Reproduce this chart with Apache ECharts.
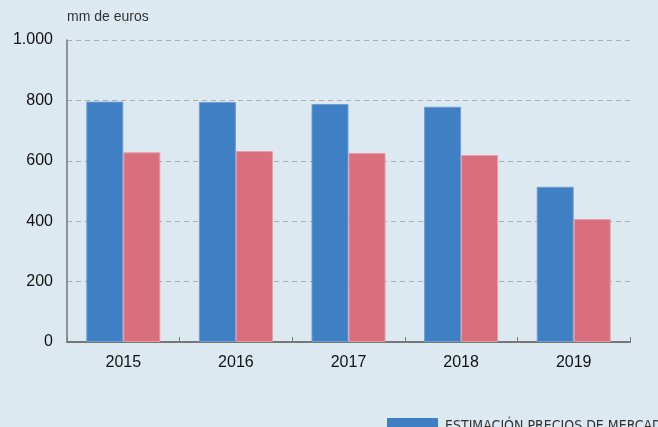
<!DOCTYPE html>
<html>
<head>
<meta charset="utf-8">
<script src="https://cdn.jsdelivr.net/npm/echarts@6/dist/echarts.min.js"></script>
<style>
html,body{margin:0;padding:0;background:#dde9f0;}
#c{width:658px;height:427px;}
</style>
</head>
<body>
<div id="c"></div>
<script>
const categories = ['2015', '2016', '2017', '2018', '2019'];
const marketPrices = [796, 795, 788, 779, 514];
const secondSeries = [628, 632, 626, 619, 407];
const yTicks = [0, 200, 400, 600, 800, 1000];
const unitLabel = 'mm de euros';
const legendLabel = 'ESTIMACIÓN PRECIOS DE MERCADO';

const chart = echarts.init(document.getElementById('c'));
chart.setOption({
  backgroundColor: '#dde9f0',
  animation: false,
  grid: { left: 67, right: 28, top: 40, bottom: 85, containLabel: false },
  legend: {
    data: [legendLabel],
    left: 387, top: 418, padding: 0,
    itemWidth: 51, itemHeight: 16, itemGap: 8,
    icon: 'rect',
    itemStyle: { borderWidth: 0 },
    textStyle: { fontFamily: 'DejaVu Sans Condensed, Liberation Sans', fontSize: 14, color: '#333', padding: [0, 0, 16, 2] }
  },
  graphic: [{
    type: 'text', left: 67, top: 10,
    style: { text: unitLabel, fontFamily: 'Liberation Sans, Arial', fontSize: 14, fill: '#333' }
  }],
  xAxis: {
    type: 'category', data: categories,
    axisLine: { lineStyle: { color: '#777', width: 2 } },
    axisTick: { show: true, inside: true, length: 5, lineStyle: { color: '#777' } },
    axisLabel: { fontFamily: 'Liberation Sans, Arial', fontSize: 16, color: '#111', margin: 13 }
  },
  yAxis: {
    type: 'value', min: 0, max: 1000, interval: 200,
    axisLine: { show: true, lineStyle: { color: '#777', width: 1.5 } },
    axisTick: { show: false },
    splitLine: { lineStyle: { color: '#aab0b4', type: [5, 4], width: 1 } },
    axisLabel: {
      fontFamily: 'Liberation Sans, Arial', fontSize: 16, color: '#111', margin: 14,
      formatter: v => yTicks.includes(v) ? (v === 1000 ? '1.000' : String(v)) : ''
    }
  },
  series: [
    { name: legendLabel, type: 'bar', data: marketPrices, barWidth: 37, barGap: '0%',
      itemStyle: { color: '#3f7fc4', borderColor: '#6e9fd4', borderWidth: 1 } },
    { name: 'Segunda estimación', type: 'bar', data: secondSeries, barWidth: 37, barGap: '0%',
      itemStyle: { color: '#d96f7c', borderColor: '#e89aa4', borderWidth: 1 } }
  ]
});
</script>
</body>
</html>
